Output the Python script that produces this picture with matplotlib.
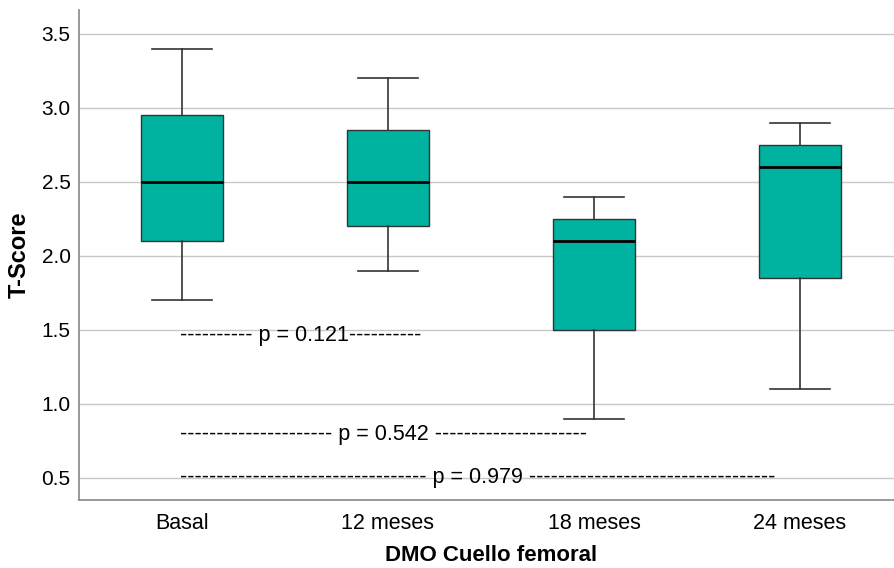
import matplotlib
matplotlib.use("Agg")
import matplotlib.pyplot as plt

plt.rcParams['font.family'] = ['Liberation Sans', 'DejaVu Sans']

groups = ['Basal', '12 meses', '18 meses', '24 meses']
whis_hi = [3.4, 3.2, 2.4, 2.9]
q3 = [2.95, 2.85, 2.25, 2.75]
med = [2.5, 2.5, 2.1, 2.6]
q1 = [2.1, 2.2, 1.5, 1.85]
whis_lo = [1.7, 1.9, 0.9, 1.1]

p_labels = ['---------- p = 0.121----------',
            '--------------------- p = 0.542 ---------------------',
            '---------------------------------- p = 0.979 ----------------------------------']
p_y = [1.46, 0.79, 0.5]

fig = plt.figure(figsize=(8.94, 5.68), dpi=100)
ax = fig.add_axes([0.0884, 0.1197, 0.9216, 0.8623])

stats = []
for i, g in enumerate(groups):
    stats.append(dict(label=g, whishi=whis_hi[i], q3=q3[i], med=med[i],
                      q1=q1[i], whislo=whis_lo[i], fliers=[]))

ax.bxp(stats, positions=range(len(groups)), widths=0.4, patch_artist=True,
       showfliers=False, capwidths=0.29,
       boxprops=dict(facecolor='#00b2a0', edgecolor='#333333', linewidth=1),
       medianprops=dict(color='black', linewidth=2),
       whiskerprops=dict(color='#333333', linewidth=1.2),
       capprops=dict(color='#333333', linewidth=1.2))

for lab, y in zip(p_labels, p_y):
    ax.text(-0.01, y, lab, ha='left', va='center', fontsize=15.5)

ax.set_xlim(-0.5, 3.5)
ax.set_ylim(0.35, 3.66)
ax.set_yticks([0.5, 1.0, 1.5, 2.0, 2.5, 3.0, 3.5])
ax.set_yticklabels(['0.5', '1.0', '1.5', '2.0', '2.5', '3.0', '3.5'])
ax.yaxis.grid(True, color='#c8c8c8', linewidth=1)
ax.set_axisbelow(True)
ax.tick_params(axis='y', length=0, labelsize=15, pad=6)
ax.tick_params(axis='x', length=0, labelsize=15.5, pad=9)

for s in ['top', 'right']:
    ax.spines[s].set_visible(False)
for s in ['left', 'bottom']:
    ax.spines[s].set_color('#888888')
    ax.spines[s].set_linewidth(1.2)

ax.set_ylabel('T-Score', fontsize=17, fontweight='bold', labelpad=8)
ax.set_xlabel('DMO Cuello femoral', fontsize=16, fontweight='bold', labelpad=8)

fig.savefig('out.png', dpi=100)
